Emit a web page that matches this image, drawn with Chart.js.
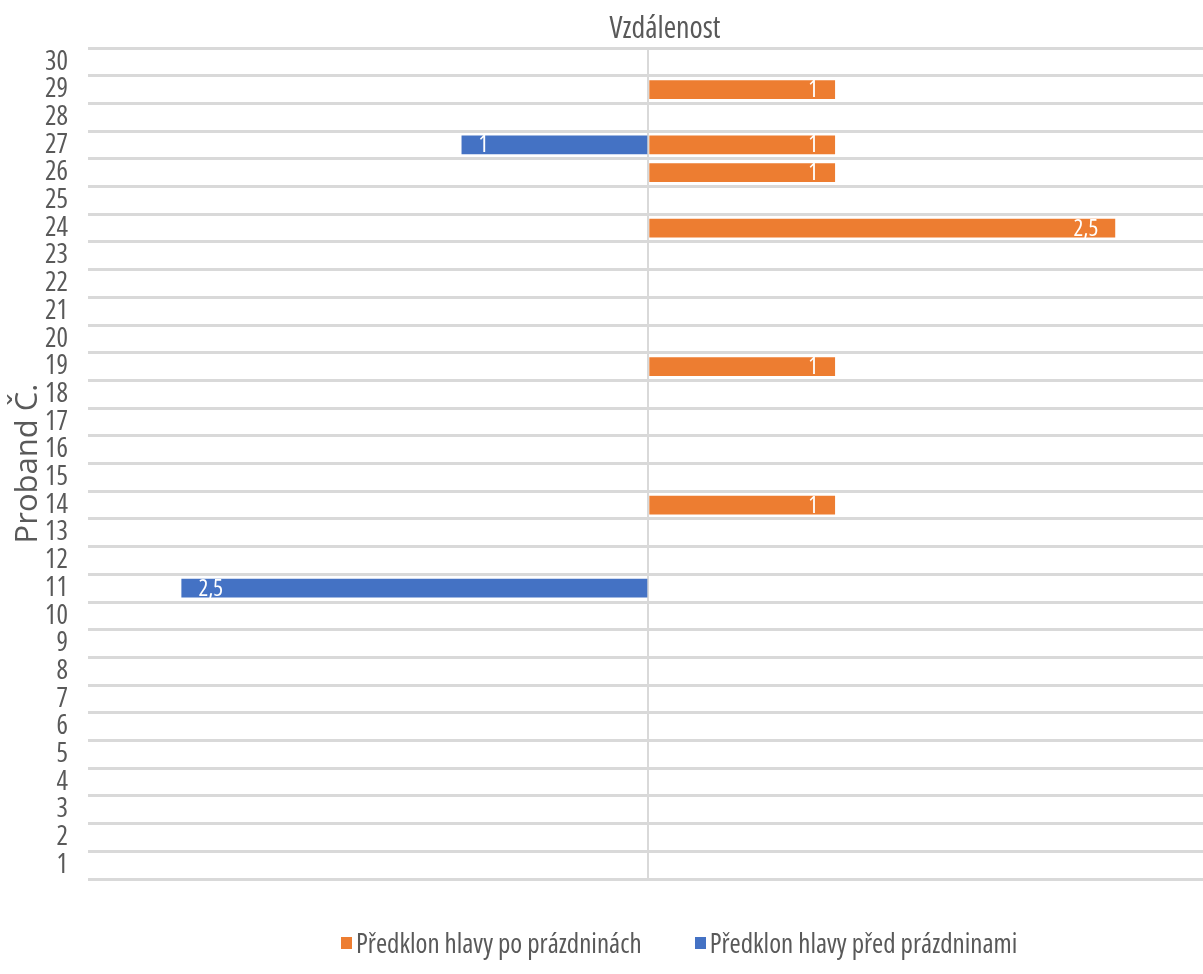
<!DOCTYPE html>
<html lang="cs">
<head>
    <meta charset="UTF-8">
    <script src="https://cdn.jsdelivr.net/npm/chart.js"></script>
    <title>Vzdálenost</title>
</head>
<style>
    body{
        margin: 0;
        background: #ffffff;
    }
    .chart-box{
        position: relative;
        width: 1203px;
        height: 974px;
        font-family: 'Open Sans', sans-serif;
        font-stretch: condensed;
        color: #595959;
    }
    #title{
        position: absolute;
        left: 565px;
        width: 200px;
        top: 9px;
        text-align: center;
        font-size: 30px;
        line-height: 36px;
    }
    #legend{
        position: absolute;
        left: 341px;
        top: 927px;
        display: flex;
        gap: 53px;
        font-size: 27px;
        line-height: 32px;
        white-space: nowrap;
    }
    #legend .item{
        display: flex;
        align-items: center;
    }
    #legend .box{
        width: 11px;
        height: 12px;
        margin-right: 4px;
    }
</style>
<body>

    <div class="chart-box">
        <canvas id="myBarChart" width="1203" height="974"></canvas>
        <div id="title">Vzdálenost</div>
        <div id="legend"></div>
    </div>

<script>
    const probandi = ['1','2','3','4','5','6','7','8','9','10','11','12','13','14','15',
                      '16','17','18','19','20','21','22','23','24','25','26','27','28','29','30'];

    // po prázdninách (doprava)
    const poPrazdninach = [0,0,0,0,0,0,0,0,0,0,0,0,0,1,0,
                           0,0,0,1,0,0,0,0,2.5,0,1,1,0,1,0];

    // před prázdninami (doleva, záporné hodnoty)
    const predPrazdninami = [0,0,0,0,0,0,0,0,0,0,-2.5,0,0,0,0,
                             0,0,0,0,0,0,0,0,0,0,0,-1,0,0,0];

    const fontName = "'Open Sans', sans-serif";
    const grey = '#595959';

    // white value labels inside the bar end
    const barLabels = {
        id: 'barLabels',
        afterDatasetsDraw(chart) {
            const ctx = chart.ctx;
            ctx.save();
            ctx.fillStyle = '#ffffff';
            ctx.font = 'condensed 23px ' + fontName;
            ctx.textBaseline = 'middle';
            chart.data.datasets.forEach((ds, i) => {
                const meta = chart.getDatasetMeta(i);
                meta.data.forEach((bar, j) => {
                    const v = ds.data[j];
                    if (!v) return;
                    const txt = String(Math.abs(v)).replace('.', ',');
                    if (v > 0) {
                        ctx.textAlign = 'right';
                        ctx.fillText(txt, bar.x - 17, bar.y + 1);
                    } else {
                        ctx.textAlign = 'left';
                        ctx.fillText(txt, bar.x + 17, bar.y + 1);
                    }
                });
            });
            ctx.restore();
        }
    };

    // legend below the chart, built from the datasets
    const htmlLegend = {
        id: 'htmlLegend',
        afterUpdate(chart) {
            const box = document.getElementById('legend');
            box.innerHTML = '';
            chart.data.datasets.forEach(ds => {
                const item = document.createElement('div');
                item.className = 'item';
                const sq = document.createElement('span');
                sq.className = 'box';
                sq.style.background = ds.backgroundColor;
                const txt = document.createElement('span');
                txt.textContent = ds.label;
                item.appendChild(sq);
                item.appendChild(txt);
                box.appendChild(item);
            });
        }
    };

    const ctx = document.getElementById("myBarChart").getContext("2d");
    new Chart(ctx, {
        type: "bar",
        data: {
            labels: probandi,
            datasets: [
                {
                    label: "Předklon hlavy po prázdninách",
                    data: poPrazdninach,
                    backgroundColor: "#ED7D31",
                    barPercentage: 0.68,
                    categoryPercentage: 1,
                },
                {
                    label: "Předklon hlavy před prázdninami",
                    data: predPrazdninami,
                    backgroundColor: "#4472C4",
                    barPercentage: 0.68,
                    categoryPercentage: 1,
                },
            ],
        },
        options: {
            indexAxis: 'y',
            responsive: false,
            animation: false,
            layout: {
                padding: { left: 10, right: 0, top: 48, bottom: 95 }
            },
            scales: {
                x: {
                    stacked: true,
                    min: -3,
                    max: 2.97,
                    ticks: { display: false, stepSize: 1 },
                    border: { display: false },
                    grid: {
                        drawTicks: false,
                        lineWidth: 2,
                        color: c => c.tick && c.tick.value === 0 ? '#d9d9d9' : 'rgba(0,0,0,0)',
                    },
                    afterFit: s => { s.height = 0; },
                },
                y: {
                    stacked: true,
                    reverse: true,
                    border: { display: false },
                    grid: {
                        offset: true,
                        drawTicks: false,
                        lineWidth: 3,
                        color: '#d9d9d9',
                    },
                    ticks: {
                        autoSkip: false,
                        color: grey,
                        padding: 20,
                        font: { family: fontName, weight: 'condensed', size: 27, lineHeight: 1 },
                    },
                    title: {
                        display: true,
                        text: 'Proband Č.',
                        color: grey,
                        font: { family: fontName, size: 31 },
                        padding: 0,
                    },
                    afterFit: s => { s.width = 78; },
                },
            },
            plugins: {
                legend: { display: false },
                tooltip: { enabled: false },
            },
        },
        plugins: [barLabels, htmlLegend],
    });
</script>

</body>
</html>
